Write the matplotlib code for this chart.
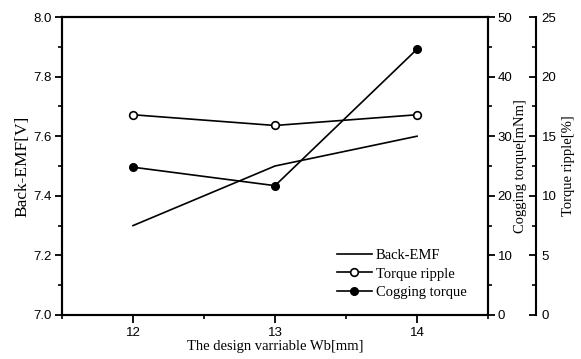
import matplotlib
matplotlib.use("Agg")
import matplotlib.pyplot as plt
from matplotlib.ticker import MultipleLocator
from matplotlib.lines import Line2D

# design variable Wb [mm]
wb = [12, 13, 14]
back_emf = [7.3, 7.5, 7.6]              # [V]
torque_ripple = [16.8, 15.9, 16.8]      # [%]
cogging_torque = [24.8, 21.7, 44.6]     # [mNm]

serif = "Liberation Serif"
plt.rcParams["font.family"] = "Liberation Sans"

fig = plt.figure(figsize=(5.81, 3.59), dpi=100)
ax = fig.add_axes([0.1067, 0.1226, 0.7333, 0.83])
ax_cog = ax.twinx()
ax_rip = ax.twinx()

lw = 1.2
ms = 5.5
ax.plot(wb, back_emf, color="black", lw=lw)
ax_rip.plot(wb, torque_ripple, color="black", lw=lw, marker="o",
            ms=ms, mfc="white", mec="black", mew=1.2)
ax_cog.plot(wb, cogging_torque, color="black", lw=lw, marker="o",
            ms=ms, mfc="black", mec="black")

ax.set_xlim(11.5, 14.5)
ax.set_ylim(7.0, 8.0)
ax_cog.set_ylim(0, 50)
ax_rip.set_ylim(0, 25)

ax.xaxis.set_major_locator(MultipleLocator(1))
ax.xaxis.set_minor_locator(MultipleLocator(0.5))
ax.yaxis.set_major_locator(MultipleLocator(0.2))
ax.yaxis.set_minor_locator(MultipleLocator(0.1))
ax_cog.yaxis.set_major_locator(MultipleLocator(10))
ax_cog.yaxis.set_minor_locator(MultipleLocator(5))
ax_rip.yaxis.set_major_locator(MultipleLocator(5))
ax_rip.yaxis.set_minor_locator(MultipleLocator(2.5))

for a in (ax, ax_cog):
    for s in a.spines.values():
        s.set_linewidth(1.5)
ax.tick_params(which="major", direction="out", length=5, width=1.3,
               labelsize=9.5, pad=2.5)
ax.tick_params(which="minor", direction="out", length=3, width=1.2)
ax.tick_params(axis="x", which="major", length=6)
ax_cog.tick_params(which="major", direction="out", length=5, width=1.3,
                   labelsize=9.5, pad=2)
ax_cog.tick_params(which="minor", direction="out", length=3, width=1.2)

# offset third axis for torque ripple
ax_rip.spines["right"].set_position(("axes", 1.1127))
for k in ("top", "bottom", "left"):
    ax_rip.spines[k].set_visible(False)
ax_rip.spines["right"].set_linewidth(1.5)
ax_rip.tick_params(which="major", direction="in", length=5, width=1.3,
                   labelsize=9.5, pad=4)
ax_rip.tick_params(which="minor", direction="in", length=3, width=1.2)

ax.set_xlabel("The design varriable Wb[mm]", family=serif, fontsize=10.5,
              labelpad=1)
ax.set_ylabel("Back-EMF[V]", family=serif, fontsize=12.5, labelpad=2)
ax_cog.set_ylabel("Cogging torque[mNm]", family=serif, fontsize=10.5,
                  labelpad=1)
ax_rip.set_ylabel("Torque ripple[%]", family=serif, fontsize=10.5,
                  labelpad=4)

handles = [
    Line2D([], [], color="black", lw=lw),
    Line2D([], [], color="black", lw=lw, marker="o", ms=ms, mfc="white",
           mec="black", mew=1.2),
    Line2D([], [], color="black", lw=lw, marker="o", ms=ms, mfc="black",
           mec="black"),
]
fig.legend(handles, ["Back-EMF", "Torque ripple", "Cogging torque"],
           loc="upper left", bbox_to_anchor=(337 / 581, 1 - 249 / 359),
           frameon=False, prop={"family": serif, "size": 10.5},
           handlelength=2.4, handletextpad=0.25, labelspacing=0.35,
           borderpad=0, borderaxespad=0)

fig.savefig("out.png", dpi=100)
